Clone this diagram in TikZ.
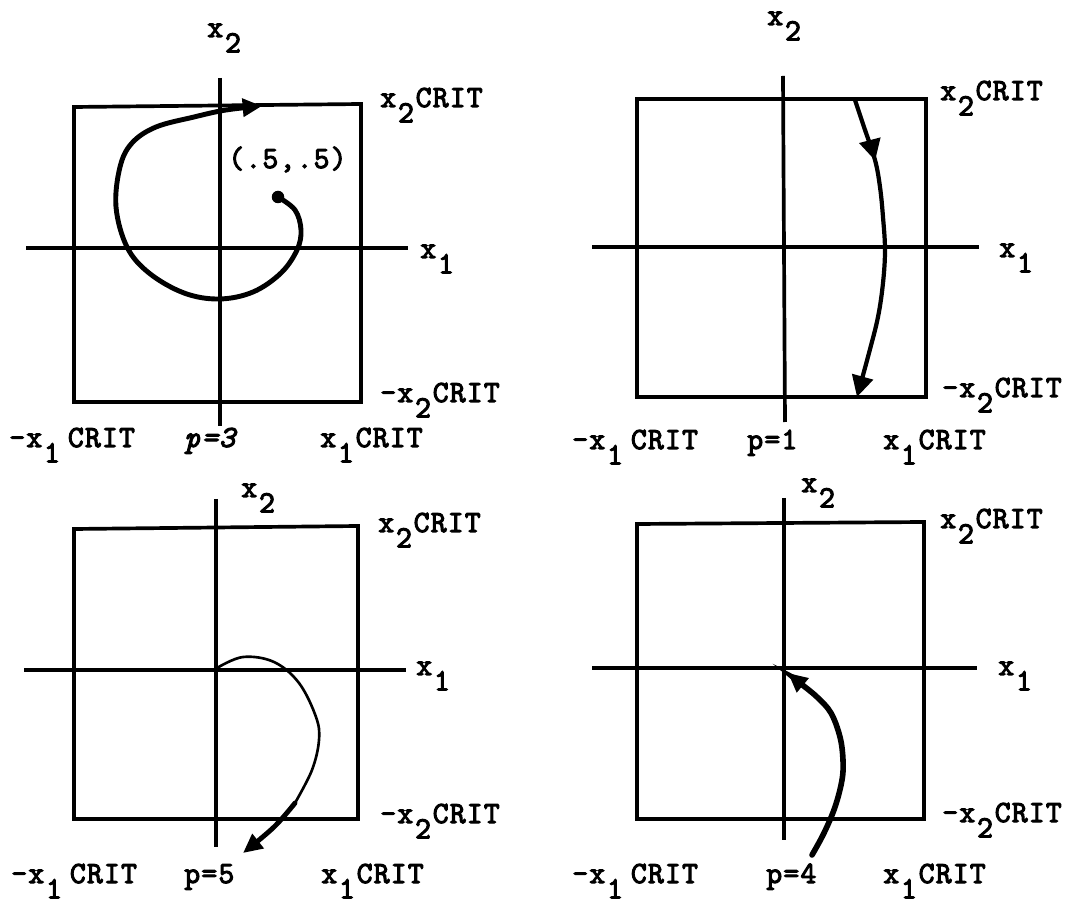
\documentclass[tikz,border=0pt]{standalone}
\usepackage{fontspec}
\newfontfamily\tw{Latin Modern Mono}[FakeBold=3.5, LetterSpace=4]
\usetikzlibrary{arrows.meta,decorations.markings}
\newcommand{\sbs}[1]{\kern0.06em\raisebox{-0.5em}{#1}\kern0.06em}
\begin{document}
\begin{tikzpicture}[x=0.02cm,y=-0.02cm,
  lab/.style={anchor=base west, inner sep=0pt, font=\tw\fontsize{17.5}{19}\selectfont},
  frame/.style={line width=2.1pt, line join=miter},
  axisline/.style={line width=2.1pt},
  traj/.style={line width=2.8pt, line cap=round},
  tiph/.style={-{Triangle[length=11pt,width=10pt]}},
  dotnode/.style={circle, fill=black, inner sep=0pt, minimum size=0.25cm}]
\useasboundingbox (0,0) rectangle (1076,905);

% ---------------- Panel A (top left, p=3)
\coordinate (A-nw) at (74,107); \coordinate (A-ne) at (361,104);
\coordinate (A-se) at (361,402); \coordinate (A-sw) at (74,402);
\coordinate (A-t) at (220,78); \coordinate (A-b) at (220,426);
\coordinate (A-l) at (26,248); \coordinate (A-r) at (408,248);
\draw[frame] (A-nw) -- (A-ne) -- (A-se) -- (A-sw) -- cycle;
\draw[axisline] (A-t) -- (A-b);
\draw[axisline] (A-l) -- (A-r);
\node[lab] (A-x2) at (207,37) {x\sbs{2}};
\node[lab] (A-x1) at (420,258) {x\sbs{1}};
\node[lab] (A-c2) at (380,107) {x\sbs{2}CRIT};
\node[lab] (A-m2) at (380,402) {-x\sbs{2}CRIT};
\node[lab] (A-m1) at (9,447) {-x\sbs{1}\kern0.2em CRIT};
\node[lab, font=\tw\itshape\fontsize{17.5}{19}\selectfont] (A-p) at (184,447) {p=3};
\node[lab] (A-c1) at (320,447) {x\sbs{1}CRIT};
\node[lab] (A-pt) at (228,168) {(.5,.5)};
\node[dotnode] (A-dot) at (278,197) {};
\draw[traj, tiph] plot[smooth, tension=0.6] coordinates {
  (278,197) (295,210) (301,230) (297,250) (281,273) (253,292) (219,299)
  (184,293) (149,273) (127,247) (116,207) (120,167) (132,143) (156,127)
  (194,117) (226,110) (262,106)};

% ---------------- Panel B (top right, p=1)
\coordinate (B-nw) at (637,99); \coordinate (B-ne) at (926,99);
\coordinate (B-se) at (926,397); \coordinate (B-sw) at (637,397);
\coordinate (B-t) at (783,76); \coordinate (B-b) at (785,422);
\coordinate (B-l) at (592,247); \coordinate (B-r) at (979,247);
\draw[frame] (B-nw) -- (B-ne) -- (B-se) -- (B-sw) -- cycle;
\draw[axisline] (B-t) -- (B-b);
\draw[axisline] (B-l) -- (B-r);
\node[lab] (B-x2) at (767,25) {x\sbs{2}};
\node[lab] (B-x1) at (999,257) {x\sbs{1}};
\node[lab] (B-c2) at (940,100) {x\sbs{2}CRIT};
\node[lab] (B-m2) at (942,397) {-x\sbs{2}CRIT};
\node[lab] (B-m1) at (572,449) {-x\sbs{1}\kern0.2em CRIT};
\node[lab] (B-p) at (747,449) {p=1};
\node[lab] (B-c1) at (883,449) {x\sbs{1}CRIT};
\draw[traj, line width=2.4pt, -{Triangle[length=12pt,width=12pt]},
  postaction={decorate, decoration={markings,
    mark=at position 0.21 with {\arrow{Triangle[length=12pt,width=12pt]}}}}]
  plot[smooth, tension=0.6] coordinates {
  (855,100) (864,127) (875,160) (880,187) (883,217) (885,250) (883,283)
  (878,317) (869,353) (857,397)};

% ---------------- Panel C (bottom left, p=5)
\coordinate (C-nw) at (74,529); \coordinate (C-ne) at (358,526);
\coordinate (C-se) at (358,819); \coordinate (C-sw) at (74,819);
\coordinate (C-t) at (216,499); \coordinate (C-b) at (216,847);
\coordinate (C-l) at (24,670); \coordinate (C-r) at (406,670);
\draw[frame] (C-nw) -- (C-ne) -- (C-se) -- (C-sw) -- cycle;
\draw[axisline] (C-t) -- (C-b);
\draw[axisline] (C-l) -- (C-r);
\node[lab] (C-x2) at (241,497) {x\sbs{2}};
\node[lab] (C-x1) at (416,675) {x\sbs{1}};
\node[lab] (C-c2) at (378,532) {x\sbs{2}CRIT};
\node[lab] (C-m2) at (380,823) {-x\sbs{2}CRIT};
\node[lab] (C-m1) at (11,883) {-x\sbs{1}\kern0.2em CRIT};
\node[lab] (C-p) at (184,883) {p=5};
\node[lab] (C-c1) at (321,883) {x\sbs{1}CRIT};
\draw[line width=1.5pt] plot[smooth, tension=0.6] coordinates {
  (217,668) (243,657) (274,662) (299,683) (316,717) (319,740) (312,770) (295,803)};
\draw[traj, line width=2.8pt, tiph] plot[smooth, tension=0.6] coordinates {
  (295,803) (274,827) (243,853)};

% ---------------- Panel D (bottom right, p=4)
\coordinate (D-nw) at (637,524); \coordinate (D-ne) at (924,522);
\coordinate (D-se) at (924,819); \coordinate (D-sw) at (637,819);
\coordinate (D-t) at (784,498); \coordinate (D-b) at (784,840);
\coordinate (D-l) at (592,668); \coordinate (D-r) at (977,668);
\draw[frame] (D-nw) -- (D-ne) -- (D-se) -- (D-sw) -- cycle;
\draw[axisline] (D-t) -- (D-b);
\draw[axisline] (D-l) -- (D-r);
\node[lab] (D-x2) at (801,492) {x\sbs{2}};
\node[lab] (D-x1) at (998,675) {x\sbs{1}};
\node[lab] (D-c2) at (940,528) {x\sbs{2}CRIT};
\node[lab] (D-m2) at (942,822) {-x\sbs{2}CRIT};
\node[lab] (D-m1) at (572,883) {-x\sbs{1}\kern0.2em CRIT};
\node[lab] (D-p) at (766,883) {p=4};
\node[lab] (D-c1) at (883,883) {x\sbs{1}CRIT};
\draw[traj, line width=3.2pt, tiph] plot[smooth, tension=0.6] coordinates {
  (812,855) (824,833) (835,807) (842,780) (843,760) (840,737) (831,713)
  (817,697) (800,683) (788,673)};
\end{tikzpicture}
\end{document}
